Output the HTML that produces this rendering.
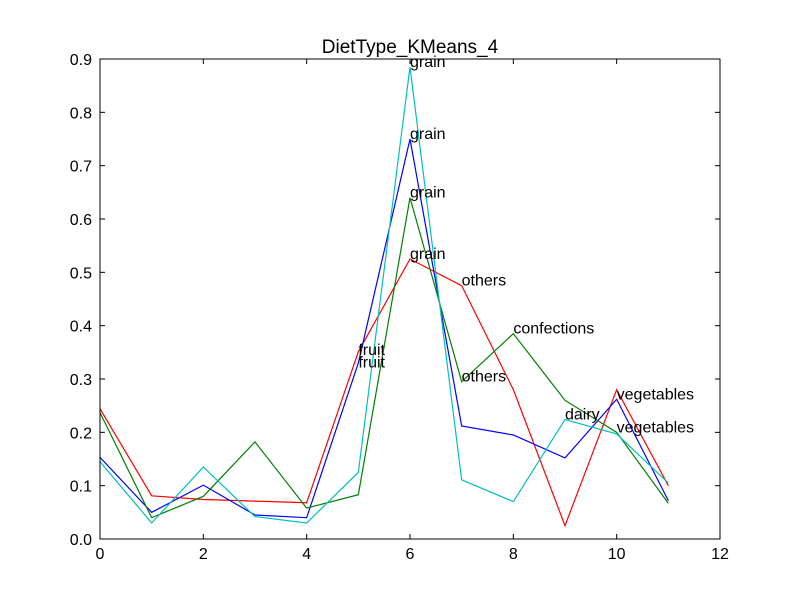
<!DOCTYPE html>
<html><head><meta charset="utf-8"><style>
body{margin:0;background:#fff;}
svg{display:block;font-family:"Liberation Sans",sans-serif;}
</style></head><body>
<svg id="c" width="800" height="600"></svg>
<script>
const xTicks=[0,2,4,6,8,10,12];
const yTicks=[0.0,0.1,0.2,0.3,0.4,0.5,0.6,0.7,0.8,0.9];
const redVals=[0.244,0.081,0.074,0.071,0.068,0.351,0.525,0.475,0.28,0.025,0.28,0.1];
const blueVals=[0.153,0.05,0.101,0.045,0.04,0.33,0.75,0.212,0.195,0.152,0.262,0.072];
const greenVals=[0.237,0.04,0.08,0.182,0.058,0.083,0.64,0.295,0.385,0.26,0.2,0.067];
const cyanVals=[0.145,0.03,0.135,0.042,0.03,0.125,0.885,0.111,0.07,0.224,0.197,0.105];
const annLabels=["grain","grain","grain","grain","others","confections","others","fruit","fruit","dairy","vegetables","vegetables"];
const annX=[6,6,6,6,7,8,7,5,5,9,10,10];
const annY=[0.885,0.75,0.64,0.525,0.475,0.385,0.295,0.345,0.322,0.224,0.262,0.2];
const L=100,R=720,T=59,B=539;
const sx=v=>L+(v-0)/(12-0)*(R-L);
const sy=v=>B-(v-0)/(0.9-0)*(B-T);
const svg=document.getElementById('c');
const NS='http://www.w3.org/2000/svg';
function mk(t,a,p){const e=document.createElementNS(NS,t);for(const k in a)e.setAttribute(k,a[k]);(p||svg).appendChild(e);return e;}
const series=[[redVals,'#ff0000','red-series'],[blueVals,'#0000ff','blue-series'],[greenVals,'#008000','green-series'],[cyanVals,'#00bfbf','cyan-series']];
series.forEach(s=>{
  const pts=s[0].map((v,i)=>sx(i)+','+sy(v)).join(' ');
  const e=mk('polyline',{points:pts,fill:'none',stroke:s[1],'stroke-width':1.2});
  
  
});
annLabels.forEach((t,i)=>{
  const e=mk('text',{x:sx(annX[i]),y:sy(annY[i]),'font-size':16});
  e.textContent=t;
  
  
});
const f=mk('rect',{x:L,y:T,width:R-L,height:B-T,fill:'none',stroke:'#000','stroke-width':1});


xTicks.forEach(v=>{
  const x=sx(v);
  mk('line',{x1:x,y1:B,x2:x,y2:B-5,stroke:'#000'});
  mk('line',{x1:x,y1:T,x2:x,y2:T+5,stroke:'#000'});
  const e=mk('text',{x:x,y:B+20,'font-size':16,'text-anchor':'middle'});
  e.textContent=v;
  
  
});
yTicks.forEach(v=>{
  const y=sy(v);
  mk('line',{x1:L,y1:y,x2:L+5,y2:y,stroke:'#000'});
  mk('line',{x1:R,y1:y,x2:R-5,y2:y,stroke:'#000'});
  const e=mk('text',{x:L-8,y:y+6,'font-size':16,'text-anchor':'end'});
  e.textContent=v.toFixed(1);
  
  
});
const t=mk('text',{x:410,y:53,'font-size':19,'text-anchor':'middle'});
t.textContent='DietType_KMeans_4';


</script>
</body></html>
